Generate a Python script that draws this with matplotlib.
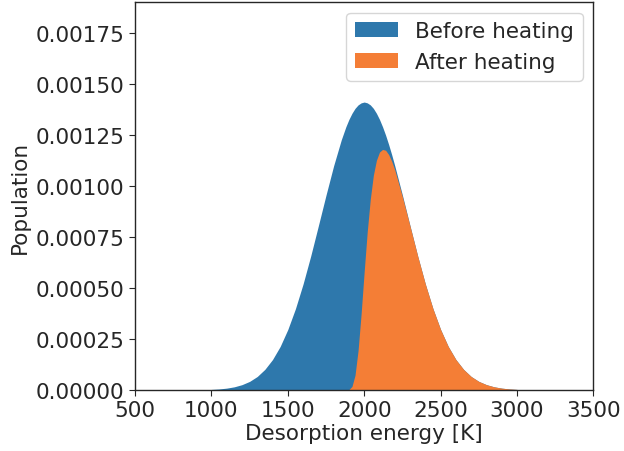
import matplotlib

matplotlib.use("Agg")
import matplotlib.pyplot as plt

# Desorption energy grid [K]
energy = [1000, 1050, 1100, 1150, 1200, 1250, 1300, 1350, 1400, 1450,
          1500, 1550, 1600, 1650, 1700, 1750, 1800, 1850, 1880, 1900,
          1920, 1940, 1960, 1980, 2000, 2020, 2040, 2060, 2080, 2100,
          2120, 2140, 2160, 2180, 2200, 2250, 2300, 2350, 2400, 2450,
          2500, 2550, 2600, 2650, 2700, 2750, 2800, 2850, 2900, 2950, 3000]

before = [0.0000027, 0.0000050, 0.0000090, 0.0000155, 0.000026, 0.000042,
          0.000066, 0.000101, 0.000149, 0.000213, 0.000296, 0.000398,
          0.000519, 0.000656, 0.000804, 0.000954, 0.001098, 0.001225,
          0.001289, 0.001325, 0.001355, 0.001379, 0.001396, 0.001406,
          0.001410, 0.001406, 0.001396, 0.001379, 0.001355, 0.001325,
          0.001289, 0.001248, 0.001202, 0.001152, 0.001098, 0.000954,
          0.000804, 0.000656, 0.000519, 0.000398, 0.000296, 0.000213,
          0.000149, 0.000101, 0.000066, 0.000042, 0.000026, 0.0000155,
          0.0000090, 0.0000050, 0.0000027]

after = [0, 0, 0, 0, 0, 0,
         0, 0, 0, 0, 0, 0,
         0, 0, 0, 0, 0, 0,
         0.0000001, 0.000002, 0.0000174, 0.0000725, 0.000194, 0.000374,
         0.000581, 0.000776, 0.000935, 0.001052, 0.001125, 0.001165,
         0.001178, 0.001174, 0.001153, 0.001120, 0.001078, 0.000946,
         0.000802, 0.000656, 0.000519, 0.000398, 0.000296, 0.000213,
         0.000149, 0.000101, 0.000066, 0.000042, 0.000026, 0.0000155,
         0.0000090, 0.0000050, 0.0000027]

labels = ["Before heating", "After heating"]
colors = ["#2e78ac", "#f47e36"]

plt.rcParams.update({
    "font.family": "DejaVu Sans",
    "font.size": 15.5,
    "text.color": "#262626",
    "axes.labelcolor": "#262626",
    "xtick.color": "#262626",
    "ytick.color": "#262626",
    "axes.edgecolor": "#262626",
    "axes.linewidth": 1.0,
    "xtick.direction": "out",
    "ytick.direction": "out",
    "xtick.major.size": 4,
    "ytick.major.size": 4,
})

fig, ax = plt.subplots(figsize=(6.24, 4.52), dpi=100)
fig.subplots_adjust(left=0.2163, right=0.951, top=0.9934, bottom=0.135)

ax.fill_between(energy, before, color=colors[0], lw=0, label=labels[0])
ax.fill_between(energy, after, color=colors[1], lw=0, label=labels[1])

ax.set_xlim(500, 3500)
ax.set_ylim(0, 0.0019)
ax.set_xticks([500, 1000, 1500, 2000, 2500, 3000, 3500])
ax.set_yticks([0, 0.00025, 0.0005, 0.00075, 0.001, 0.00125, 0.0015, 0.00175])
ax.set_yticklabels([f"{v:.5f}" for v in ax.get_yticks()])
ax.set_xlabel("Desorption energy [K]", labelpad=2)
ax.set_ylabel("Population")
ax.legend(loc="upper right")

fig.savefig("out.png", dpi=100)
